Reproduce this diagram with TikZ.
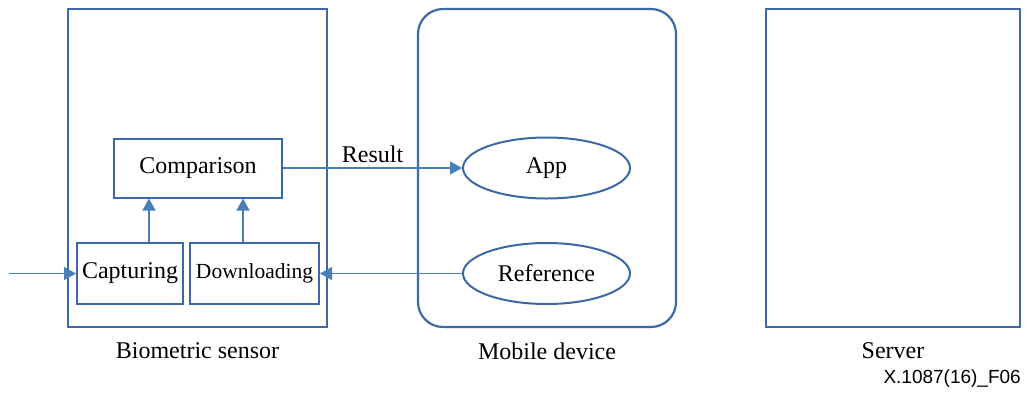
\documentclass[tikz,border=0pt]{standalone}
\usepackage{fontspec}
\setmainfont{Liberation Serif}
\newfontfamily\arialf{Liberation Sans}
\usetikzlibrary{arrows.meta,shapes.geometric,calc}
\definecolor{boxc}{RGB}{60,105,165}
\definecolor{arrc}{RGB}{74,126,187}
\begin{document}
\begin{tikzpicture}[x=1pt,y=-1pt,
  outerbox/.style={draw=boxc,line width=2.2pt,minimum width=#1,minimum height=318pt,inner sep=0pt},
  innerbox/.style={draw=boxc,line width=2pt,inner sep=0pt,font=\fontsize{24}{28}\selectfont},
  oval/.style={draw=boxc,ellipse,line width=2pt,minimum width=167pt,minimum height=61pt,inner sep=0pt,font=\fontsize{24}{28}\selectfont},
  conn/.style={draw=arrc,line width=1.3pt,-{Triangle[length=12pt,width=13pt]}},
  lbl/.style={font=\fontsize{24}{28}\selectfont,inner sep=0pt}]
\useasboundingbox (0,0) rectangle (1027,392);
% outer containers
\node[outerbox=259pt] (bio) at (197.5,168) {};
\node[outerbox=258pt,rounded corners=25pt] (mob) at (547,168) {};
\node[outerbox=254pt] (srv) at (893,168) {};
% inner boxes
\node[innerbox,minimum width=168pt,minimum height=59pt] (cmp) at (198,168) {Comparison};
\node[innerbox,minimum width=106pt,minimum height=61pt] (cap) at (130,273.5) {Capturing};
\node[innerbox,minimum width=129pt,minimum height=61pt,font=\fontsize{21.5}{26}\selectfont] (dl) at (254.5,273.5) {Downloading};
% ellipses
\node[oval] (app) at (546.5,168) {App};
\node[oval] (ref) at (546.5,273.5) {Reference};
% helper coordinates
\coordinate (in) at (9,273.5);
\coordinate (u1) at (149,0);
\coordinate (u2) at (243,0);
% connectors
\draw[conn] (in) -- (cap.west);
\draw[conn] (cap.north -| u1) -- (cmp.south -| u1);
\draw[conn] (dl.north -| u2) -- (cmp.south -| u2);
\draw[conn] (cmp.east) -- node[lbl,above=5pt,pos=0.5] (res) {Result} (app.west);
\draw[conn] (ref.west) -- (dl.east);
% labels
\node[lbl] (lbio) at (197.5,351) {Biometric sensor};
\node[lbl] (lmob) at (547,351) {Mobile device};
\node[lbl] (lsrv) at (893,351) {Server};
\node[inner sep=0pt,anchor=east,font=\arialf\fontsize{19}{22}\selectfont] (fig) at (1021,379) {X.1087(16)\_F06};
\end{tikzpicture}
\end{document}
